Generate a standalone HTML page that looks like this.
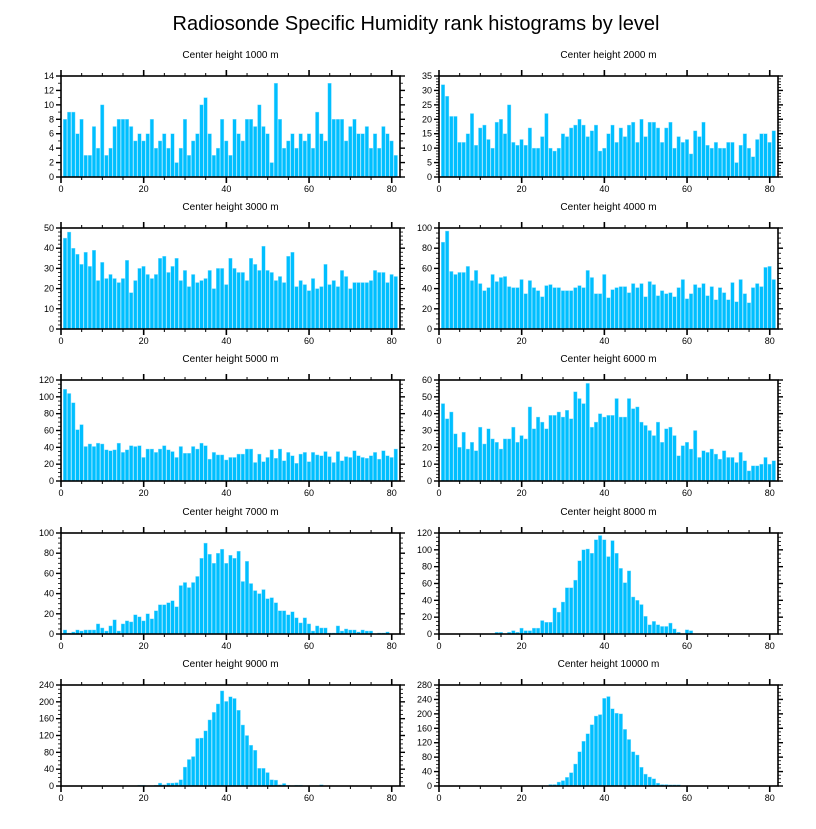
<!DOCTYPE html>
<html><head><meta charset="utf-8"><style>
body{margin:0;background:#fff;}
svg text{font-family:"Liberation Sans",sans-serif;}
</style></head><body>
<svg id="c" width="816" height="824" xmlns="http://www.w3.org/2000/svg">
<text x="416" y="30" font-size="20" text-anchor="middle">Radiosonde Specific Humidity rank histograms by level</text>
</svg>
<script>
const levels = [1000,2000,3000,4000,5000,6000,7000,8000,9000,10000];
const yMaxes = [14,35,50,100,120,60,100,120,240,280];
const yMajors = [2,5,10,20,20,10,20,20,40,40];
const yMinors = [1,1,2,5,5,2,5,5,10,10];
const xTicks = [0,20,40,60,80];
const v1000 = [8,9,9,6,8,3,3,7,4,10,3,4,7,8,8,8,7,5,6,5,6,8,4,5,6,4,6,2,4,8,3,5,6,10,11,6,3,4,8,5,3,8,6,5,8,8,7,10,7,6,2,13,8,4,5,6,4,6,5,6,4,9,6,5,13,8,8,8,5,7,8,6,6,7,4,6,4,7,6,5,3];
const v2000 = [32,28,21,21,12,12,15,22,11,17,18,13,10,19,20,15,25,12,11,13,11,17,10,10,14,22,10,9,10,15,14,17,18,20,18,14,16,18,9,10,15,18,12,17,14,18,19,12,20,14,19,19,17,12,17,19,10,14,12,13,8,16,14,19,11,10,12,10,10,12,12,5,11,15,10,7,13,15,15,12,16];
const v3000 = [45,48,40,37,32,38,31,39,24,33,25,27,25,23,25,34,18,24,30,31,27,25,27,35,36,28,31,35,24,29,21,27,23,24,25,29,20,30,30,22,35,30,28,28,24,35,32,29,41,29,28,24,26,23,36,38,21,24,22,19,25,20,21,32,22,24,21,29,26,20,23,23,23,23,24,29,28,28,23,27,26];
const v4000 = [86,97,57,54,56,56,62,48,58,45,38,41,54,47,51,52,42,41,41,49,35,48,41,38,32,43,44,41,41,38,38,38,41,43,41,58,51,35,35,54,31,39,41,42,42,36,45,41,45,32,47,44,33,38,35,36,32,41,49,30,35,44,41,45,33,42,29,41,36,29,46,27,49,35,26,41,45,42,61,62,49];
const v5000 = [109,104,93,61,67,41,44,41,45,44,37,36,37,45,34,37,42,41,42,28,38,38,34,38,42,37,35,28,41,33,33,41,38,45,42,26,34,31,31,25,28,28,32,32,38,38,22,32,23,28,37,27,38,24,34,30,21,32,34,23,34,31,30,35,29,22,35,24,29,28,36,30,28,27,30,34,26,36,30,28,38];
const v6000 = [46,37,41,28,20,29,19,23,18,32,22,31,25,23,19,25,25,32,23,27,25,44,31,38,35,31,39,39,41,38,42,37,53,49,46,58,32,35,40,38,39,39,49,38,38,49,43,44,35,33,30,27,35,23,31,32,27,15,21,23,19,30,14,18,17,19,16,13,18,14,14,11,17,12,6,9,9,10,14,10,12];
const v7000 = [4,1,2,4,3,4,4,4,10,6,3,8,14,3,10,13,12,19,17,13,20,15,23,29,29,31,33,27,48,51,46,51,57,75,90,79,70,80,84,70,78,75,82,52,72,50,43,40,44,35,36,31,23,23,19,22,16,11,16,10,3,8,6,6,1,1,8,3,5,4,4,2,4,3,3,0,1,1,2,0,0];
const v8000 = [0,0,0,0,0,0,0,0,0,0,0,0,0,2,2,0,2,4,2,7,4,4,7,7,16,14,14,31,26,38,55,55,64,87,100,101,96,112,117,112,92,111,96,78,61,75,44,40,35,21,11,15,11,9,9,13,6,2,0,5,4,0,0,0,0,0,0,0,0,0,0,0,0,0,0,0,0,0,0,0,0];
const v9000 = [0,0,0,0,0,0,0,0,0,0,0,0,0,0,0,0,0,0,2,2,0,0,2,7,3,7,7,8,15,45,63,70,113,114,131,157,175,195,226,201,212,208,180,145,120,97,85,42,42,32,15,14,3,6,2,1,2,2,0,0,0,0,3,0,0,0,0,0,0,0,0,0,0,0,0,0,0,0,0,0,0];
const v10000 = [0,0,0,0,0,0,0,0,0,0,0,0,0,0,0,0,0,0,0,0,0,0,0,0,1,1,4,4,11,15,24,37,61,95,124,145,170,194,198,243,248,214,202,200,157,129,95,86,52,33,25,20,8,4,4,3,3,3,1,0,0,0,0,0,0,0,0,0,0,0,0,0,0,0,0,0,0];
const seriesList = [v1000,v2000,v3000,v4000,v5000,v6000,v7000,v8000,v9000,v10000];

const NS = "http://www.w3.org/2000/svg";
const svg = document.getElementById('c');
function mk(tag, attrs, parent){ const e=document.createElementNS(NS,tag); for(const k in attrs) e.setAttribute(k,attrs[k]); (parent||svg).appendChild(e); return e; }
const lefts=[61,439], tops=[76,228,380,533,685], W=339, H=101, XMAX=82;

for(let p=0;p<10;p++){
  const L=lefts[p%2], T=tops[Math.floor(p/2)], B=T+H, R=L+W;
  const g=mk('g',{});
  
  
  const xs=v=>L+v*W/XMAX, ys=v=>B-v*H/yMaxes[p];
  const t=mk('text',{x:(L+R)/2,y:T-18,'font-size':10,'text-anchor':'middle'},g);
  t.textContent='Center height '+levels[p]+' m';
  
  
  const vals=seriesList[p];
  vals.forEach((v,i)=>{
    if(v<=0) return;
    const x0=xs(i+0.5), x1=xs(i+1.5);
    const r=mk('rect',{x:x0+0.2,y:ys(v),width:x1-x0-0.6,height:B-ys(v),fill:'#00bfff',stroke:'#8fe0ff','stroke-width':0.4},g);
    
    
  });
  const f=mk('rect',{x:L,y:T,width:W,height:H,fill:'none',stroke:'#000','stroke-width':1.6},g);
  
  
  // x ticks
  for(let v=0;v<=XMAX;v+=5){
    const major=v%20===0, len=major?6:3, x=xs(v);
    mk('line',{x1:x,x2:x,y1:B,y2:B+len,stroke:'#000','stroke-width':major?1.6:1},g);
    mk('line',{x1:x,x2:x,y1:T,y2:T-len,stroke:'#000','stroke-width':major?1.6:1},g);
  }
  xTicks.forEach(v=>{
    const tx=mk('text',{x:xs(v),y:B+15,'font-size':9,'text-anchor':'middle'},g);
    tx.textContent=v;
    
    
  });
  // y ticks
  for(let v=0;v<=yMaxes[p]+1e-9;v+=yMinors[p]){
    const major=Math.abs(v/yMajors[p]-Math.round(v/yMajors[p]))<1e-6, len=major?5:3, y=ys(v);
    mk('line',{x1:L,x2:L-len,y1:y,y2:y,stroke:'#000','stroke-width':major?1.4:0.8},g);
    mk('line',{x1:R,x2:R+len,y1:y,y2:y,stroke:'#000','stroke-width':major?1.4:0.8},g);
    if(major){
      const ty=mk('text',{x:L-7,y:y+3,'font-size':9,'text-anchor':'end'},g);
      ty.textContent=Math.round(v);
      
      
    }
  }
}
</script>
</body></html>
